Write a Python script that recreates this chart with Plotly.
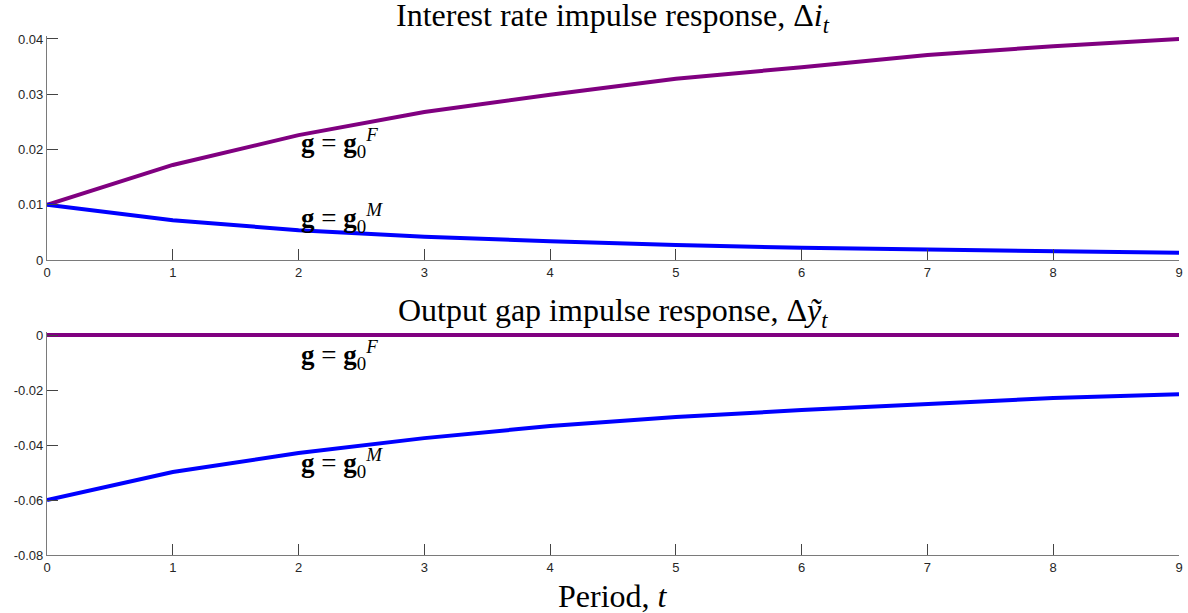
import plotly.graph_objects as go
from plotly.subplots import make_subplots

periods = [0, 1, 2, 3, 4, 5, 6, 7, 8, 9]
rate_F = [0.0100, 0.0172, 0.0226, 0.0268, 0.0299, 0.0328, 0.0349, 0.0371, 0.0387, 0.0400]
rate_M = [0.0100, 0.0072, 0.0054, 0.0042, 0.0034, 0.0027, 0.0022, 0.0019, 0.0016, 0.0013]
gap_F = [0, 0, 0, 0, 0, 0, 0, 0, 0, 0]
gap_M = [-0.0600, -0.0498, -0.0429, -0.0375, -0.0331, -0.0298, -0.0273, -0.0251, -0.0229, -0.0215]

top_ticks = [0, 0.01, 0.02, 0.03, 0.04]
top_ticktext = ["0", "0.01", "0.02", "0.03", "0.04"]
bot_ticks = [-0.08, -0.06, -0.04, -0.02, 0]
bot_ticktext = ["-0.08", "-0.06", "-0.04", "-0.02", "0"]
x_ticks = periods
x_ticktext = [str(p) for p in periods]

PURPLE = "#800080"
BLUE = "#0000FF"
SERIF = "Liberation Serif, DejaVu Serif, serif"
SANS = "Liberation Sans, Arial, sans-serif"

# plot area: 36px top margin, 58px bottom margin -> 519px tall
fig = make_subplots(rows=2, cols=1)
fig.update_layout(
    xaxis=dict(domain=[0, 1]),
    yaxis=dict(domain=[0.5684, 1.0]),
    xaxis2=dict(domain=[0, 1]),
    yaxis2=dict(domain=[0.0, 0.4297]),
)

line_w = 4
fig.add_trace(go.Scatter(x=periods, y=rate_F, mode="lines", line=dict(color=PURPLE, width=line_w),
                         cliponaxis=False, showlegend=False), row=1, col=1)
fig.add_trace(go.Scatter(x=periods, y=rate_M, mode="lines", line=dict(color=BLUE, width=line_w),
                         cliponaxis=False, showlegend=False), row=1, col=1)
fig.add_trace(go.Scatter(x=periods, y=gap_F, mode="lines", line=dict(color=PURPLE, width=line_w),
                         cliponaxis=False, showlegend=False), row=2, col=1)
fig.add_trace(go.Scatter(x=periods, y=gap_M, mode="lines", line=dict(color=BLUE, width=line_w),
                         cliponaxis=False, showlegend=False), row=2, col=1)

axis_common = dict(showgrid=False, zeroline=False, showline=True, linecolor="#7a7a7a", linewidth=1.2,
                   ticks="inside", ticklen=11, tickcolor="#444444", tickwidth=1, automargin=False,
                   tickfont=dict(family=SANS, size=13, color="#262626"))

fig.update_xaxes(range=[0, 9], tickvals=x_ticks, ticktext=x_ticktext, **axis_common)
fig.update_yaxes(range=[0, 0.04054], tickvals=top_ticks, ticktext=top_ticktext, row=1, col=1, **axis_common)
fig.update_yaxes(range=[-0.08, 0.0011], tickvals=bot_ticks, ticktext=bot_ticktext, row=2, col=1, **axis_common)

lab_F = "<b>g</b> = <b>g</b><sub>0</sub><sup><i>F</i></sup>"
lab_M = "<b>g</b> = <b>g</b><sub>0</sub><sup><i>M</i></sup>"
lab_font = dict(family=SERIF, size=27, color="black")
fig.add_annotation(x=2, y=0.0212, xref="x", yref="y", text=lab_F, showarrow=False,
                   xanchor="left", yanchor="middle", font=lab_font)
fig.add_annotation(x=2, y=0.0076, xref="x", yref="y", text=lab_M, showarrow=False,
                   xanchor="left", yanchor="middle", font=lab_font)
fig.add_annotation(x=2, y=-0.0073, xref="x2", yref="y2", text=lab_F, showarrow=False,
                   xanchor="left", yanchor="middle", font=lab_font)
fig.add_annotation(x=2, y=-0.0465, xref="x2", yref="y2", text=lab_M, showarrow=False,
                   xanchor="left", yanchor="middle", font=lab_font)

title_font = dict(family=SERIF, size=32, color="black")
fig.add_annotation(x=0.5, y=1.0358, xref="paper", yref="paper", showarrow=False,
                   text="Interest rate impulse response, Δ<i>i<sub>t</sub></i>",
                   xanchor="center", yanchor="middle", font=title_font)
fig.add_annotation(x=0.5, y=0.4674, xref="paper", yref="paper", showarrow=False,
                   text="Output gap impulse response, Δ<i>ỹ<sub>t</sub></i>",
                   xanchor="center", yanchor="middle", font=title_font)
fig.add_annotation(x=0.5, y=-0.0784, xref="paper", yref="paper", showarrow=False,
                   text="Period, <i>t</i>",
                   xanchor="center", yanchor="middle", font=title_font)

fig.update_layout(width=1188, height=613, margin=dict(l=47, r=9, t=36, b=58),
                  paper_bgcolor="white", plot_bgcolor="white")

fig.write_html("out.html", config={"displayModeBar": False},
               post_script="document.body.style.margin='0';document.body.style.overflow='hidden';")
